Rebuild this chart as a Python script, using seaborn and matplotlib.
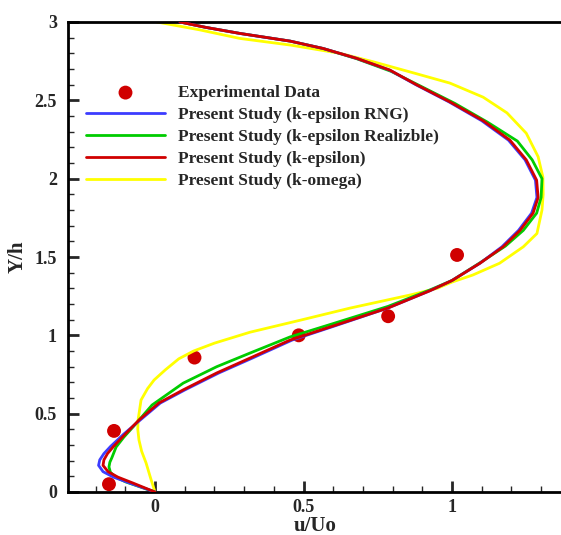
import numpy as np
import matplotlib
matplotlib.use("Agg")
import matplotlib.pyplot as plt
from matplotlib.ticker import MultipleLocator, FormatStrFormatter
import seaborn as sns

# Experimental data
exp_u = [-0.155, -0.138, 0.133, 0.484, 0.785, 1.017]
exp_y = [0.05, 0.39, 0.858, 1.0, 1.122, 1.513]

# k-epsilon (standard)
ke_u = [0.0, -0.074, -0.125, -0.158, -0.175, -0.172, -0.16, -0.14, -0.10, -0.054, 0.013, 0.094, 0.208,
        0.32, 0.455, 0.60, 0.785, 0.926, 1.0, 1.094, 1.172, 1.229, 1.273, 1.29, 1.285, 1.25, 1.195,
        1.105, 0.993, 0.88, 0.791, 0.679, 0.566, 0.455, 0.286, 0.17, 0.084]
ke_y = [0.0, 0.057, 0.095, 0.13, 0.17, 0.205, 0.245, 0.29, 0.37, 0.459, 0.568, 0.651, 0.76,
        0.855, 0.97, 1.06, 1.175, 1.285, 1.35, 1.46, 1.565, 1.67, 1.78, 1.88, 1.99, 2.12, 2.246,
        2.37, 2.49, 2.6, 2.693, 2.768, 2.831, 2.878, 2.927, 2.966, 3.0]

# k-epsilon RNG
rng_u = [0.0, -0.085, -0.14, -0.175, -0.19, -0.186, -0.172, -0.15, -0.105, -0.05, 0.018, 0.10, 0.215,
         0.328, 0.462, 0.605, 0.785, 0.926, 1.0, 1.094, 1.168, 1.224, 1.268, 1.286, 1.281, 1.246,
         1.19, 1.10, 0.99, 0.878, 0.79, 0.679, 0.566, 0.455, 0.286, 0.17, 0.084]
rng_y = ke_y

# k-epsilon Realizable
rea_u = [0.0, -0.098, -0.132, -0.15, -0.155, -0.152, -0.145, -0.131, -0.105, -0.074, -0.01, 0.095,
         0.208, 0.32, 0.455, 0.60, 0.785, 0.926, 1.0, 1.10, 1.18, 1.24, 1.285, 1.30, 1.303, 1.27,
         1.22, 1.12, 1.01, 0.895, 0.795, 0.68, 0.566, 0.455, 0.286, 0.17, 0.084]
rea_y = [0.0, 0.064, 0.095, 0.125, 0.16, 0.19, 0.22, 0.287, 0.35, 0.415, 0.555, 0.695,
         0.80, 0.887, 0.99, 1.075, 1.185, 1.29, 1.35, 1.47, 1.57, 1.67, 1.78, 1.88, 2.0, 2.12,
         2.24, 2.36, 2.48, 2.59, 2.685, 2.765, 2.831, 2.878, 2.927, 2.966, 3.0]

# k-omega
kw_u = [0.0, -0.015, -0.03, -0.045, -0.054, -0.058, -0.057, -0.047, -0.025, -0.003, 0.035, 0.08, 0.13,
        0.2, 0.32, 0.49, 0.657, 0.858, 0.95, 1.0, 1.07, 1.16, 1.24, 1.286, 1.303, 1.307, 1.306, 1.29,
        1.25, 1.185, 1.105, 0.993, 0.88, 0.735, 0.623, 0.455, 0.286, 0.15, 0.006]
kw_y = [0.0, 0.09, 0.185, 0.26, 0.332, 0.40, 0.46, 0.587, 0.66, 0.715, 0.78, 0.85, 0.9,
        0.95, 1.02, 1.097, 1.174, 1.257, 1.30, 1.34, 1.385, 1.46, 1.565, 1.65, 1.80, 1.90, 2.01, 2.14,
        2.29, 2.42, 2.52, 2.61, 2.67, 2.746, 2.80, 2.853, 2.895, 2.95, 3.0]

labels = ["Experimental Data",
          "Present Study (k-epsilon RNG)",
          "Present Study (k-epsilon Realizble)",
          "Present Study (k-epsilon)",
          "Present Study (k-omega)"]

sns.set_style("ticks")
plt.rcParams["font.family"] = ["Liberation Serif", "DejaVu Serif"]
plt.rcParams["font.weight"] = "bold"

W, H = 561, 535
fig = plt.figure(figsize=(W / 100, H / 100), dpi=100)
x0, x1, y0, y1 = 68, 563, 22, 492
ax = fig.add_axes([x0 / W, (H - y1) / H, (x1 - x0) / W, (y1 - y0) / H])

red = "#d00000"
blue = "#3c3cff"
green = "#00cc00"
yellow = "#ffff00"

sns.scatterplot(x=exp_u, y=exp_y, ax=ax, color=red, s=100, edgecolor="none",
                label=labels[0], zorder=1, legend=False)
sns.lineplot(x=rng_u, y=rng_y, ax=ax, color=blue, lw=2.0, sort=False, orient="y",
             estimator=None, label=labels[1], zorder=3, legend=False)
sns.lineplot(x=rea_u, y=rea_y, ax=ax, color=green, lw=2.0, sort=False, orient="y",
             estimator=None, label=labels[2], zorder=2.5, legend=False)
sns.lineplot(x=ke_u, y=ke_y, ax=ax, color=red, lw=2.0, sort=False, orient="y",
             estimator=None, label=labels[3], zorder=4, legend=False)
sns.lineplot(x=kw_u, y=kw_y, ax=ax, color=yellow, lw=2.0, sort=False, orient="y",
             estimator=None, label=labels[4], zorder=2, legend=False)

ax.set_xlim((x0 - 155) / 297, (x1 - 155) / 297)
ax.set_ylim(0, 3)
ax.xaxis.set_major_locator(MultipleLocator(0.5))
ax.xaxis.set_minor_locator(MultipleLocator(0.1))
ax.yaxis.set_major_locator(MultipleLocator(0.5))
ax.yaxis.set_minor_locator(MultipleLocator(0.1))
ax.xaxis.set_major_formatter(FormatStrFormatter("%g"))
ax.yaxis.set_major_formatter(FormatStrFormatter("%g"))
ax.tick_params(which="major", direction="in", length=8, width=2, labelsize=13, pad=5,
               top=False, right=False)
ax.tick_params(which="minor", direction="in", length=4, width=1, top=False, right=False)
ax.tick_params(axis="y", which="major", pad=8)
for lab in ax.get_xticklabels() + ax.get_yticklabels():
    lab.set_fontweight("bold")
for s in ax.spines.values():
    s.set_linewidth(2)
    s.set_color("black")

ax.set_xlabel("u/Uo", fontsize=15, fontweight="bold", labelpad=0)
ax.set_ylabel("Y/h", fontsize=15, fontweight="bold", labelpad=5)

handles, labs = ax.get_legend_handles_labels()
order = [labs.index(l) for l in labels]
ax.legend([handles[i] for i in order], [labs[i] for i in order],
          loc="upper left", bbox_to_anchor=((86 - x0) / (x1 - x0), (y1 - 85) / (y1 - y0)),
          frameon=False, borderpad=0, borderaxespad=0, handlelength=4.55,
          handletextpad=0.75, labelspacing=0.33, prop={"family": "Liberation Serif",
                                                       "weight": "bold", "size": 12.5})

fig.savefig("out.png", dpi=100)
